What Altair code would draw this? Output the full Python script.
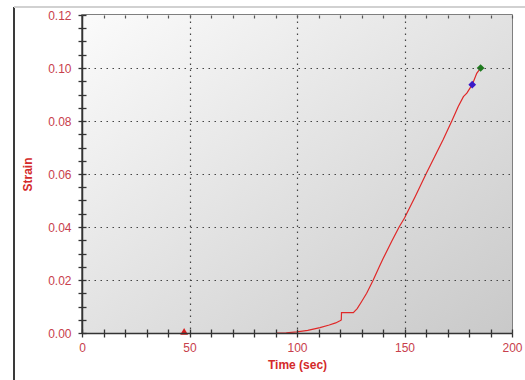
import altair as alt
import pandas as pd

# Strain curve samples
time_sec = [90.5, 95, 100, 105, 110.7, 115, 118, 120, 120.6, 120.7, 126.2, 128, 130,
            132.4, 135.3, 138, 140, 144, 147.5, 150, 155, 160, 164, 168, 172, 175,
            177.4, 179, 181.5, 183.6, 185.4]
strain = [0.0, 0.0001, 0.0004, 0.001, 0.002, 0.003, 0.0038, 0.0046, 0.0049, 0.0077,
          0.0077, 0.0092, 0.0118, 0.015, 0.0197, 0.0245, 0.028, 0.0345, 0.040, 0.0434,
          0.0515, 0.060, 0.0665, 0.073, 0.080, 0.0855, 0.0892, 0.0905, 0.0937, 0.098,
          0.100]

# Event markers
marker_time = [47.5, 181.5, 185.4]
marker_strain = [0.0006, 0.0937, 0.100]
marker_shape = ["triangle-up", "diamond", "diamond"]
marker_color = ["#d81e1e", "#3a1ac8", "#1e7a1e"]

x_minor = list(range(0, 201, 10))
x_major = [50, 100, 150]
y_minor = [round(i * 0.005, 3) for i in range(25)]
y_major = [0.02, 0.04, 0.06, 0.08, 0.10]

W, H = 430, 318
LABEL = "#c8404c"
TITLE = "#d42a2a"
AXIS = "#333333"
FONT = "Liberation Sans"

curve = pd.DataFrame({"t": time_sec, "s": strain})
marks = pd.DataFrame({"t": marker_time, "s": marker_strain,
                      "shape": marker_shape, "color": marker_color})

x_scale = alt.Scale(domain=[0, 200], nice=False)
y_scale = alt.Scale(domain=[0, 0.12], nice=False)

# Plot-area background with a soft diagonal shading
background = alt.Chart(curve).mark_rect(
    color=alt.LinearGradient(
        gradient="linear", x1=0, y1=0, x2=1, y2=1,
        stops=[alt.GradientStop(color="#fbfbfb", offset=0),
               alt.GradientStop(color="#c9c9c9", offset=1)],
    )
).encode(x=alt.value(0), x2=alt.value(W), y=alt.value(0), y2=alt.value(H))

# Dotted grid at the major ticks
grid = alt.Chart(curve).mark_point(opacity=0).encode(
    x=alt.X("t:Q", scale=x_scale, axis=alt.Axis(
        orient="bottom", values=x_major, grid=True, gridColor="#444",
        gridDash=[1.5, 4.5], gridWidth=1.2, ticks=False, labels=False,
        domain=False, title=None, zindex=1)),
    y=alt.Y("s:Q", scale=y_scale, axis=alt.Axis(
        orient="left", values=y_major, grid=True, gridColor="#444",
        gridDash=[1.5, 4.5], gridWidth=1.2, ticks=False, labels=False,
        domain=False, title=None, zindex=1)),
)

# Main axes: labels, titles, outward ticks
line = alt.Chart(curve).mark_line(color="#e02828", strokeWidth=1.2).encode(
    x=alt.X("t:Q", scale=x_scale, axis=alt.Axis(
        orient="bottom", values=x_minor,
        labelExpr="datum.value % 50 == 0 ? datum.label : ''",
        title="Time (sec)", titleColor=TITLE, titleFontWeight="bold",
        titleFontSize=12, titleFont=FONT, titlePadding=6,
        labelColor=LABEL, labelFont=FONT, labelFontSize=12, labelPadding=5,
        tickSize=4, tickColor=AXIS, tickWidth=1.3, domainColor=AXIS,
        domainWidth=1.5, grid=False, labelFlush=False, zindex=1)),
    y=alt.Y("s:Q", scale=y_scale, axis=alt.Axis(
        orient="left", values=y_minor, format=".2f",
        labelExpr="abs(datum.value * 50 - round(datum.value * 50)) < 0.000001 ? datum.label : ''",
        title="Strain", titleColor=TITLE, titleFontWeight="bold",
        titleFontSize=12, titleFont=FONT, titlePadding=13,
        labelColor=LABEL, labelFont=FONT, labelFontSize=12, labelPadding=7,
        tickSize=4, tickColor=AXIS, tickWidth=1.3, domainColor=AXIS,
        domainWidth=1.5, grid=False, labelFlush=False, zindex=1)),
    order="t:Q",
)

# Inner halves of the ticks so they cross the axis lines
inner = alt.Chart(curve).mark_point(opacity=0).encode(
    x=alt.X("t:Q", scale=x_scale, axis=alt.Axis(
        orient="bottom", values=x_minor, offset=-4, tickSize=4, tickColor=AXIS,
        tickWidth=1.3, domain=False, labels=False, grid=False, title=None, zindex=1)),
    y=alt.Y("s:Q", scale=y_scale, axis=alt.Axis(
        orient="left", values=y_minor, offset=-4, tickSize=4, tickColor=AXIS,
        tickWidth=1.3, domain=False, labels=False, grid=False, title=None, zindex=1)),
)

# Small ticks hanging from the top edge
top = alt.Chart(curve).mark_point(opacity=0).encode(
    x=alt.X("t:Q", scale=x_scale, axis=alt.Axis(
        orient="top", values=x_minor, offset=-3, tickSize=3, tickColor="#555",
        tickWidth=1.2, domain=False, labels=False, grid=False, title=None, zindex=1)),
    y=alt.Y("s:Q", scale=y_scale, axis=None),
)

points = alt.Chart(marks).mark_point(filled=True, opacity=1, size=60).encode(
    x=alt.X("t:Q", scale=x_scale, axis=None),
    y=alt.Y("s:Q", scale=y_scale, axis=None),
    shape=alt.Shape("shape:N", scale=None),
    color=alt.Color("color:N", scale=None),
)

# Outer page frame lines
frame_left = alt.Chart(curve).mark_rule(color="#3a3a3a", strokeWidth=2).encode(
    x=alt.value(-68), y=alt.value(-8), y2=alt.value(H + 47))
frame_top = alt.Chart(curve).mark_rule(color="#d0d0d0", strokeWidth=1.5).encode(
    x=alt.value(-68), x2=alt.value(W + 13), y=alt.value(-8))

chart = alt.layer(
    background, grid, line, inner, top, points, frame_left, frame_top
).resolve_axis(x="independent", y="independent").properties(
    width=W, height=H,
    autosize=alt.AutoSizeParams(type="none"),
    padding={"left": 82, "top": 15, "right": 13, "bottom": 47},
    background="white",
).configure_view(stroke="#555555", strokeWidth=1.5)

chart.save("out.html", embed_options={"renderer": "svg", "actions": False})
